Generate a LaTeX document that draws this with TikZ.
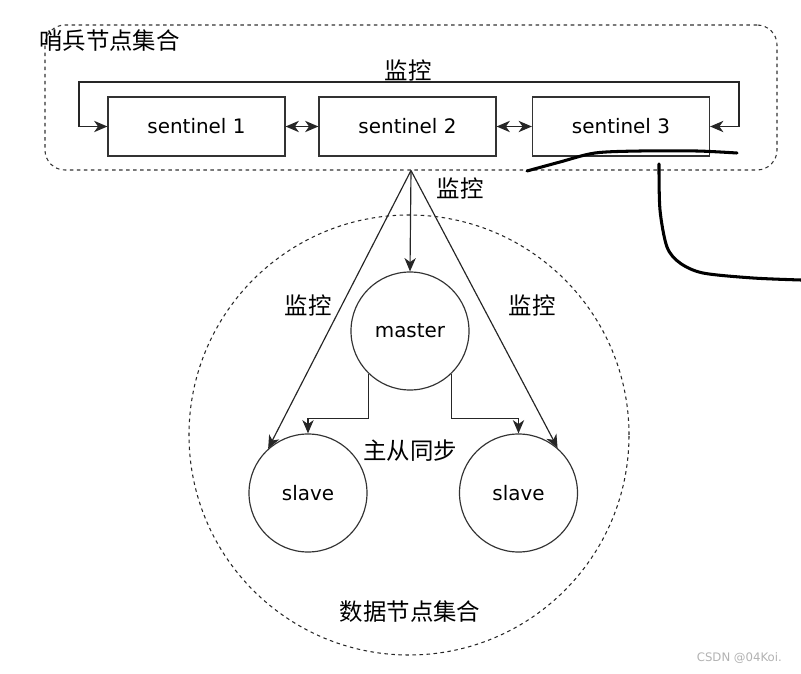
\documentclass[tikz,border=0pt]{standalone}
\usepackage{fontspec}
\setmainfont{DejaVu Sans}
\newfontfamily\cjk{Noto Sans CJK SC}
\usetikzlibrary{arrows.meta,positioning,calc}
\tikzset{
  sentblk/.style={draw=black!80,rectangle,line width=1pt,minimum width=5.31cm,minimum height=1.77cm,font=\fontsize{17}{20}\selectfont},
  datnode/.style={circle,draw=black!80,line width=1pt,minimum size=3.54cm,inner sep=0pt,font=\fontsize{17}{20}\selectfont},
  grpbox/.style={draw=black!80,dashed,rounded corners=0.6cm,line width=0.9pt,minimum width=21.96cm,minimum height=4.35cm},
  grpcirc/.style={circle,draw=black!85,dashed,line width=0.9pt,minimum size=13.2cm,inner sep=0pt},
  arr/.style={-{Stealth[length=4mm,width=3.4mm,inset=1.2mm]},line width=1pt,black!85},
  biarr/.style={{Stealth[length=4mm,width=3.4mm,inset=1.2mm]}-{Stealth[length=4mm,width=3.4mm,inset=1.2mm]},line width=1pt,black!85},
  cnlbl/.style={font=\cjk\fontsize{20}{24}\selectfont,inner sep=0pt},
  scrib/.style={line width=2.6pt,line cap=round,line join=round}
}

\begin{document}
\begin{tikzpicture}[x=0.03cm,y=-0.03cm]
  \useasboundingbox (0,0) rectangle (801,674);
  % Sentinel group
  \node[grpbox] (sgrp) at (411,97.5) {};
  \node[cnlbl, anchor=west] (sgrplbl) at (39,41) {哨兵节点集合};

  \node[sentblk] (s1) at (196.5,126.5) {sentinel 1};
  \node[sentblk] (s2) at (407.5,126.5) {sentinel 2};
  \node[sentblk] (s3) at (621,126.5) {sentinel 3};

  \draw[biarr] (s1) -- (s2);
  \draw[biarr] (s2) -- (s3);

  % Loop over the sentinels
  \coordinate (lp1) at (79,82);
  \coordinate (lp2) at (739,82);
  \draw[biarr] (s1.west) -| (lp1) -- (lp2) |- (s3.east);
  \node[cnlbl] (lbltop) at (408,70) {监控};

  % Data group
  \node[grpcirc] (dgrp) at (409,435) {};
  \node[cnlbl] (dgrplbl) at (410,612) {数据节点集合};

  \node[datnode] (master) at (410,331) {master};
  \node[datnode] (sl1) at (308,493) {slave};
  \node[datnode] (sl2) at (518.5,493) {slave};

  % Monitoring
  \draw[arr] (sgrp.south) -- (master.north);
  \draw[arr] (sgrp.south) -- (sl1.132);
  \draw[arr] (sgrp.south) -- (sl2.49);
  \node[cnlbl] (lblmid) at (460,188) {监控};
  \node[cnlbl] (lblleft) at (308,305) {监控};
  \node[cnlbl] (lblright) at (532,305) {监控};

  % Replication
  \draw[arr] (master.-134) -- ++(0,45) -| (sl1.north);
  \draw[arr] (master.-46) -- ++(0,45) -| (sl2.north);
  \node[cnlbl] (lblsync) at (410,451) {主从同步};

  % Hand-drawn marks
  \draw[scrib] plot[smooth] coordinates {(527,171) (560,162) (595,153) (640,151) (697,151) (737,153)};
  \draw[scrib] plot[smooth] coordinates {(659,164) (660,210) (667,247) (680,263) (703,273) (753,278) (801,280)};

  \node[text=black!30, font=\fontsize{10}{12}\selectfont, anchor=east] (wm) at (786,658) {CSDN @04Koi.};
\end{tikzpicture}
\end{document}
